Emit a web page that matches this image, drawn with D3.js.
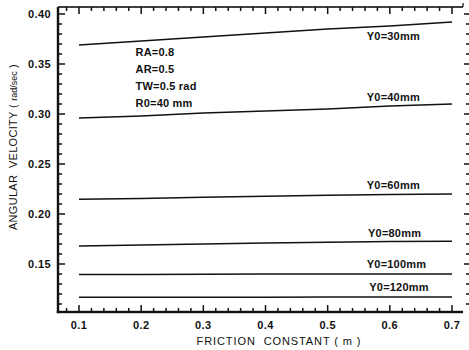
<!DOCTYPE html>
<html>
<head>
<meta charset="utf-8">
<script src="https://cdn.jsdelivr.net/npm/d3@7"></script>
<style>
  body { margin: 0; background: #fff; }
  svg text { font-family: "Liberation Sans", Arial, sans-serif; fill: #111; }
</style>
</head>
<body>
<div id="chart"></div>
<script>
// friction constant (x) values where curves were read
const frictionValues = [0.1, 0.2, 0.3, 0.4, 0.5, 0.6, 0.7];

// angular velocity per initial offset Y0
const seriesNames = ["Y0=30mm", "Y0=40mm", "Y0=60mm", "Y0=80mm", "Y0=100mm", "Y0=120mm"];
const y0_30 = [0.369, 0.373, 0.377, 0.381, 0.385, 0.388, 0.392];
const y0_40 = [0.296, 0.298, 0.301, 0.303, 0.305, 0.308, 0.310];
const y0_60 = [0.2148, 0.2156, 0.2168, 0.2178, 0.2188, 0.2195, 0.2200];
const y0_80 = [0.1680, 0.1690, 0.1700, 0.1710, 0.1718, 0.1724, 0.1728];
const y0_100 = [0.1395, 0.1396, 0.1398, 0.1399, 0.1400, 0.1400, 0.1400];
const y0_120 = [0.1168, 0.1168, 0.1168, 0.1168, 0.1170, 0.1170, 0.1170];

// label anchors (x in data units, y offset in px from the curve)
const labelX = [0.563, 0.563, 0.563, 0.565, 0.563, 0.567];
const labelDy = [15, -5, -5, -5, -6, -6];

const paramLines = ["RA=0.8", "AR=0.5", "TW=0.5 rad", "R0=40 mm"];

const xTicks = [0.1, 0.2, 0.3, 0.4, 0.5, 0.6, 0.7];
const yTicks = [0.15, 0.20, 0.25, 0.30, 0.35, 0.40];

const margin = {top: 7, left: 58};
const width = 405, height = 305;

const svg = d3.select("#chart").append("svg")
    .attr("width", 469).attr("height", 350);
const g = svg.append("g").attr("transform", `translate(${margin.left},${margin.top})`);

const x = d3.scaleLinear().domain([0.0662, 0.7177]).range([0, width]);
const y = d3.scaleLinear().domain([0.102, 0.407]).range([height, 0]);

const xMinor = d3.range(4, 36).map(i => +(i * 0.02).toFixed(2))
    .filter(v => v > 0.066 && v < 0.717 && !xTicks.some(t => Math.abs(t - v) < 1e-6));
const yMinor = d3.range(11, 41).map(i => +(i * 0.01).toFixed(2))
    .filter(v => !yTicks.some(t => Math.abs(t - v) < 1e-6));

const ink = "#111";

// frame
g.append("rect").attr("x", -1.2).attr("y", height - 1.2).attr("width", width + 1.2).attr("height", 2.4).attr("fill", ink);
g.append("rect").attr("x", -1.2).attr("y", 0).attr("width", 2.4).attr("height", height + 1.2).attr("fill", ink);
g.append("rect").attr("x", 0).attr("y", -0.8).attr("width", width).attr("height", 1.6).attr("fill", ink);
g.append("rect").attr("x", width - 0.6).attr("y", -4).attr("width", 1.2).attr("height", 4).attr("fill", ink);

// curves
const allSeries = [y0_30, y0_40, y0_60, y0_80, y0_100, y0_120];
const line = d3.line().x((d, i) => x(frictionValues[i])).y(d => y(d));

allSeries.forEach((vals, k) => {
  g.append("path").datum(vals)
    .attr("d", line)
    .attr("fill", "none").attr("stroke", ink).attr("stroke-width", 1.5);

  const interp = d3.scaleLinear().domain(frictionValues).range(vals);
  g.append("text")
    .attr("x", x(labelX[k]))
    .attr("y", y(interp(labelX[k] + 0.05)) + labelDy[k])
    .style("font-size", "11px").style("font-weight", "bold").style("letter-spacing", "0.2px")
    .text(seriesNames[k]);
});

// tick labels
g.append("g").selectAll("text").data(xTicks).join("text")
  .attr("x", d => x(d)).attr("y", height + 17)
  .attr("text-anchor", "middle")
  .style("font-size", "11px").style("font-weight", "bold").style("letter-spacing", "0.4px")
  .text(d3.format(".1f"));
g.append("g").selectAll("text").data(yTicks).join("text")
  .attr("x", -7).attr("y", d => y(d) + 4)
  .attr("text-anchor", "end")
  .style("font-size", "11px").style("font-weight", "bold").style("letter-spacing", "0.4px")
  .text(d3.format(".2f"));

// parameter block
g.append("g").selectAll("text").data(paramLines).join("text")
  .attr("x", x(0.191))
  .attr("y", (d, i) => 49 + i * 17)
  .style("font-size", "11px").style("font-weight", "bold").style("letter-spacing", "0.2px")
  .text(d => d);

// axis titles
svg.append("text")
  .attr("x", 279).attr("y", 345)
  .attr("text-anchor", "middle")
  .style("font-size", "11px").style("letter-spacing", "0.9px")
  .attr("xml:space", "preserve")
  .text("FRICTION  CONSTANT ( m )");

const yt = svg.append("text")
  .attr("transform", "translate(17,147) rotate(-90)")
  .attr("text-anchor", "middle")
  .style("font-size", "11px").style("letter-spacing", "0.3px")
  .attr("xml:space", "preserve");
yt.append("tspan").text("ANGULAR  VELOCITY ( ");
yt.append("tspan").style("font-size", "9px").style("letter-spacing", "0px").text("rad/sec");
yt.append("tspan").text(" )");

// tick marks, drawn last as small filled rects
const tickLayer = svg.append("g").attr("transform", `translate(${margin.left},${margin.top})`);
function vTicks(vals, len, yTop) {
  tickLayer.append("g").selectAll("rect").data(vals).join("rect")
    .attr("x", d => x(d) - 0.75).attr("y", yTop).attr("width", 1.5).attr("height", len)
    .attr("fill", ink);
}
function hTicks(vals, len, xLeft) {
  tickLayer.append("g").selectAll("rect").data(vals).join("rect")
    .attr("x", xLeft).attr("y", d => y(d) - 0.75).attr("width", len).attr("height", 1.5)
    .attr("fill", ink);
}
vTicks(xTicks, 7, height - 7);
vTicks(xMinor, 4, height - 4);
vTicks(xTicks, 7, 0);
vTicks(xMinor, 4, 0);
hTicks(yTicks, 7, 0);
hTicks(yMinor, 4, 0);
hTicks(yTicks, 6, width + 1);
hTicks(yMinor, 3, width + 3);
</script>
</body>
</html>
